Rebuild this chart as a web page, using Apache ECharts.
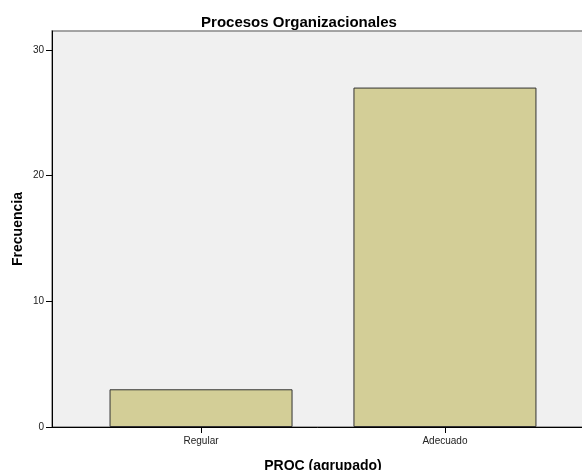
<!DOCTYPE html>
<html>
<head>
<meta charset="utf-8">
<script src="https://cdn.jsdelivr.net/npm/echarts@6/dist/echarts.min.js"></script>
<style>html,body{margin:0;padding:0;background:#fff}#c{width:582px;height:470px}</style>
</head>
<body>
<div id="c"></div>
<script>
var categories = ['Regular', 'Adecuado'];
var values = [3, 27];
var yTicks = [0, 10, 20, 30];

var positions = categories.map(function (c, i) { return i + 1; });
var seriesData = values.map(function (v, i) { return [positions[i], v]; });

var chart = echarts.init(document.getElementById('c'));
chart.setOption({
  animation: false,
  title: {
    text: 'Procesos Organizacionales',
    left: 294, top: 10, textAlign: 'center',
    textStyle: { fontFamily: 'Liberation Sans', fontSize: 15, fontWeight: 'bold', color: '#000' }
  },
  grid: {
    left: 52, right: -12, top: 31, bottom: 43,
    outerBoundsMode: 'none', containLabel: false,
    show: true, backgroundColor: '#f0f0f0', borderColor: '#888', borderWidth: 1.5
  },
  xAxis: {
    type: 'value', min: 0.389, max: 2.611,
    name: 'PROC (agrupado)', nameLocation: 'middle', nameGap: 32, nameMoveOverlap: false,
    nameTextStyle: { fontFamily: 'Liberation Sans', fontSize: 14, fontWeight: 'bold', color: '#000' },
    splitLine: { show: false },
    axisLine: { show: true, onZero: false, lineStyle: { color: '#000', width: 1 } },
    axisTick: { show: true, customValues: positions, length: 6, lineStyle: { color: '#000' } },
    axisLabel: {
      customValues: positions, margin: 9,
      fontFamily: 'Liberation Sans', fontSize: 10, color: '#222',
      formatter: function (v) { return categories[Math.round(v) - 1] || ''; }
    }
  },
  yAxis: {
    type: 'value', min: 0, max: 31.5,
    name: 'Frecuencia', nameLocation: 'middle', nameGap: 27, nameMoveOverlap: false,
    nameTextStyle: { fontFamily: 'Liberation Sans', fontSize: 14, fontWeight: 'bold', color: '#000' },
    splitLine: { show: false },
    axisLine: { show: true, lineStyle: { color: '#000', width: 1 } },
    axisTick: { show: true, customValues: yTicks, length: 6, lineStyle: { color: '#000' } },
    axisLabel: { customValues: yTicks, margin: 8, fontFamily: 'Liberation Sans', fontSize: 10, color: '#222' }
  },
  series: [{
    type: 'bar',
    data: seriesData,
    barWidth: 183,
    itemStyle: { color: '#d3ce97', borderColor: '#333', borderWidth: 1 }
  }]
});
</script>
</body>
</html>
